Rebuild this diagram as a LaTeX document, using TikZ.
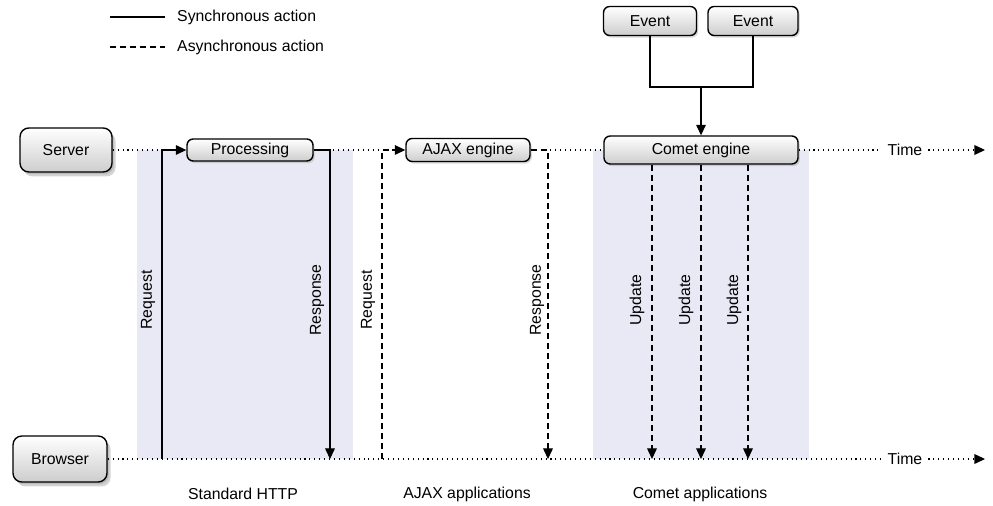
\documentclass[tikz,border=0pt]{standalone}
\usepackage{fontspec}
\setmainfont{Liberation Sans}
\usetikzlibrary{shadows,arrows.meta}
\definecolor{lane_shade}{RGB}{233,233,245}
\definecolor{box_bottom}{RGB}{205,205,205}
\tikzstyle{box}=[rectangle,rounded corners=3.5pt,draw=black,line width=0.8pt,
  top color=white,bottom color=box_bottom,inner sep=2pt,
  drop shadow={shadow xshift=1pt,shadow yshift=-1.2pt,opacity=0.3}]
\tikzstyle{bigbox}=[box,rounded corners=5pt,
  drop shadow={shadow xshift=2pt,shadow yshift=-2.5pt,opacity=0.35}]
\tikzstyle{sync}=[line width=0.6pt]
\tikzstyle{async}=[line width=0.6pt,dash pattern=on 3.4pt off 2.3pt]
\tikzstyle{timeline}=[line width=0.6pt,dash pattern=on 0.6pt off 2.2pt]
\tikzstyle{headed}=[-{Triangle[length=6pt,width=5.5pt]}]
\tikzstyle{lbl}=[rotate=90,inner sep=1pt]

\begin{document}
\begin{tikzpicture}[x=0.02cm,y=-0.02cm,font=\fontsize{9}{11}\selectfont]
    \useasboundingbox (0,0) rectangle (993,506);
    % shaded lanes
    \fill[lane_shade] (137,150) rectangle (353,459);
    \fill[lane_shade] (593,150) rectangle (809,459);

    % legend
    \coordinate (lg1a) at (110,17);
    \coordinate (lg1b) at (165,17);
    \coordinate (lg2a) at (110,47);
    \coordinate (lg2b) at (165,47);
    \draw[sync] (lg1a) -- (lg1b);
    \draw[async] (lg2a) -- (lg2b);
    \node [anchor=west] (lgsync) at (171,17) {Synchronous action};
    \node [anchor=west] (lgasync) at (171,47) {Asynchronous action};

    % actors and engines
    \node [style=bigbox,minimum width=1.84cm,minimum height=0.88cm] (server) at (66,150) {Server};
    \node [style=bigbox,minimum width=1.88cm,minimum height=0.92cm] (browser) at (60,459) {Browser};
    \node [style=box,minimum width=2.52cm,minimum height=0.44cm] (proc) at (250,150) {Processing};
    \node [style=box,minimum width=2.48cm,minimum height=0.46cm] (ajax) at (468,150) {AJAX engine};
    \node [style=box,minimum width=3.88cm,minimum height=0.56cm] (comet) at (701,150) {Comet engine};
    \node [style=box,minimum width=1.86cm,minimum height=0.58cm] (ev1) at (650,21) {Event};
    \node [style=box,minimum width=1.80cm,minimum height=0.58cm] (ev2) at (753,21) {Event};

    % time axes
    \node (stime) at (905,150) {Time};
    \node (btime) at (905,459) {Time};
    \coordinate (send) at (985,150);
    \coordinate (bend) at (985,459);
    \draw[timeline] (server) -- (proc);
    \draw[timeline] (proc) -- (ajax);
    \draw[timeline] (ajax) -- (comet);
    \draw[timeline] (comet.east) -- (stime.west);
    \draw[timeline,headed] (stime.east) -- (send);
    \draw[timeline] (browser.east) -- (btime.west);
    \draw[timeline,headed] (btime.east) -- (bend);

    % points on the browser line
    \coordinate (breq1) at (162,459);
    \coordinate (bres1) at (330,459);
    \coordinate (breq2) at (382,459);
    \coordinate (bres2) at (548,459);
    \coordinate (bup1) at (652,459);
    \coordinate (bup2) at (701,459);
    \coordinate (bup3) at (748,459);
    \coordinate (join) at (701,87);

    % standard HTTP
    \draw[sync,headed] (breq1) |- (proc.west);
    \draw[sync,headed] (proc.east) -| (bres1);
    % AJAX
    \draw[async,headed] (breq2) |- (ajax.west);
    \draw[async,headed] (ajax.east) -| (bres2);
    % Comet
    \draw[sync] (ev1.south) |- (join) -| (ev2.south);
    \draw[sync,headed] (join) -- (comet.north);
    \draw[async,headed] (comet.south -| bup1) -- (bup1);
    \draw[async,headed] (comet.south -| bup2) -- (bup2);
    \draw[async,headed] (comet.south -| bup3) -- (bup3);

    % labels
    \node [style=lbl] (lreq1) at (148,300) {Request};
    \node [style=lbl] (lres1) at (317,300) {Response};
    \node [style=lbl] (lreq2) at (368,300) {Request};
    \node [style=lbl] (lres2) at (537,300) {Response};
    \node [style=lbl] (lup1) at (637,300) {Update};
    \node [style=lbl] (lup2) at (686,300) {Update};
    \node [style=lbl] (lup3) at (734,300) {Update};
    \node (lhttp) at (243,494) {Standard HTTP};
    \node (lajax) at (467,494) {AJAX applications};
    \node (lcomet) at (700,494) {Comet applications};
\end{tikzpicture}
\end{document}
